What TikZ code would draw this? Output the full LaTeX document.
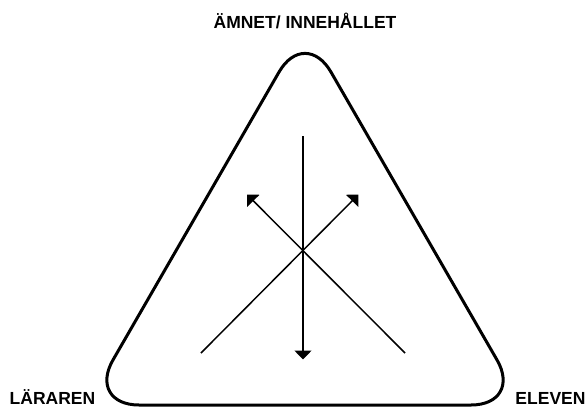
\documentclass[tikz,border=0pt]{standalone}
\usepackage{fontspec}
\setmainfont{Liberation Sans}
\usetikzlibrary{arrows.meta}
\tikzset{
  lbl/.style={font=\fontsize{17.5}{20}\selectfont\bfseries, inner sep=0pt, anchor=base},
  tri/.style={line width=3pt, rounded corners=52pt, line join=round},
  arr/.style={line width=1.5pt, -{Triangle[length=9pt,width=17pt]}}
}
\begin{document}
\begin{tikzpicture}[x=1pt,y=-1pt]
\useasboundingbox (0,0) rectangle (586,408);
\coordinate (A) at (305,27);
\coordinate (B) at (87,405);
\coordinate (C) at (523,405);
\draw[tri] (B) -- (A) -- (C) -- cycle;
\node[lbl] (top) at (305,28.5) {ÄMNET/ INNEHÅLLET};
\node[lbl] (lar) at (52.5,404) {LÄRAREN};
\node[lbl] (ele) at (550.5,404) {ELEVEN};
\coordinate (vt) at (303,136);
\coordinate (vb) at (303,359.5);
\coordinate (lb) at (201,353);
\coordinate (rt) at (358.5,194.5);
\coordinate (rb) at (405,353);
\coordinate (lt) at (247,194.5);
\draw[arr] (vt) -- (vb);
\draw[arr] (lb) -- (rt);
\draw[arr] (rb) -- (lt);
\end{tikzpicture}
\end{document}
